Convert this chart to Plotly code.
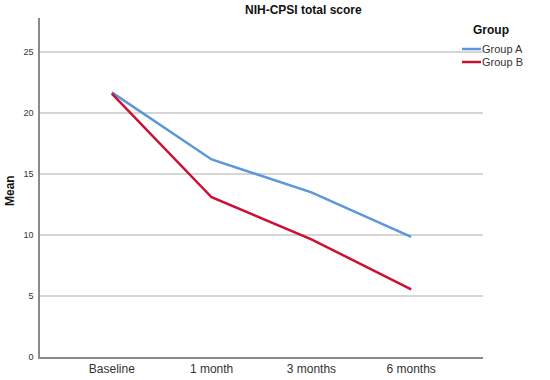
import plotly.graph_objects as go

categories = ["Baseline", "1 month", "3 months", "6 months"]
group_a = [21.7, 16.2, 13.5, 9.85]
group_b = [21.6, 13.1, 9.65, 5.55]
y_ticks = [0, 5, 10, 15, 20, 25]
series_names = ["Group A", "Group B"]
series_colors = ["#5B97D9", "#CC1034"]

FONT = "Liberation Sans, Arial, sans-serif"
W, H = 550, 380
L, R, T, B = 40, 67, 18, 23
PW = W - L - R
PH = H - T - B


def px_x(p):
    return (p - L) / PW


def px_y(p):
    return (H - B - p) / PH


fig = go.Figure()
for name, vals, col in zip(series_names, [group_a, group_b], series_colors):
    fig.add_trace(go.Scatter(x=categories, y=vals, mode="lines", name=name,
                             line=dict(color=col, width=2.5), showlegend=False))

annotations = [
    dict(text="<b>NIH-CPSI total score</b>", x=px_x(303), y=px_y(10), xref="paper", yref="paper",
         xanchor="center", yanchor="middle", showarrow=False, font=dict(size=12, color="#111111")),
    dict(text="<b>Mean</b>", x=px_x(10), y=px_y(190), xref="paper", yref="paper",
         xanchor="center", yanchor="middle", textangle=-90, showarrow=False,
         font=dict(size=12, color="#111111")),
    dict(text="<b>Group</b>", x=px_x(471), y=px_y(30), xref="paper", yref="paper",
         xanchor="left", yanchor="middle", showarrow=False, font=dict(size=12, color="#111111")),
]
shapes = []
for i, (name, col) in enumerate(zip(series_names, series_colors)):
    yy = 49 + i * 13
    annotations.append(dict(text=name, x=px_x(480), y=px_y(yy), xref="paper", yref="paper",
                            xanchor="left", yanchor="middle", showarrow=False,
                            font=dict(size=11, color="#333333")))
    shapes.append(dict(type="line", xref="paper", yref="paper", x0=px_x(462), x1=px_x(481),
                       y0=px_y(yy), y1=px_y(yy), line=dict(color=col, width=2.5)))

fig.update_layout(
    width=W, height=H,
    margin=dict(l=L, r=R, t=T, b=B, autoexpand=False),
    paper_bgcolor="white", plot_bgcolor="white",
    font=dict(family=FONT, color="#333333"),
    annotations=annotations, shapes=shapes,
    xaxis=dict(type="category", range=[-0.72, 3.72], showgrid=False, automargin=False,
               showline=True, linecolor="#8a8a8a", linewidth=1.5, ticks="",
               tickfont=dict(size=12, color="#333333"), zeroline=False),
    yaxis=dict(range=[0, 27.8], tickvals=y_ticks, showgrid=True, gridcolor="#d6d6d6",
               gridwidth=1.5, showline=True, linecolor="#8a8a8a", linewidth=1.5, automargin=False,
               ticks="", ticklabelstandoff=3, tickfont=dict(size=9, color="#333333"),
               zeroline=False),
)

fig.write_html("out.html", config={"displayModeBar": False},
               post_script="document.body.style.margin='0';")
